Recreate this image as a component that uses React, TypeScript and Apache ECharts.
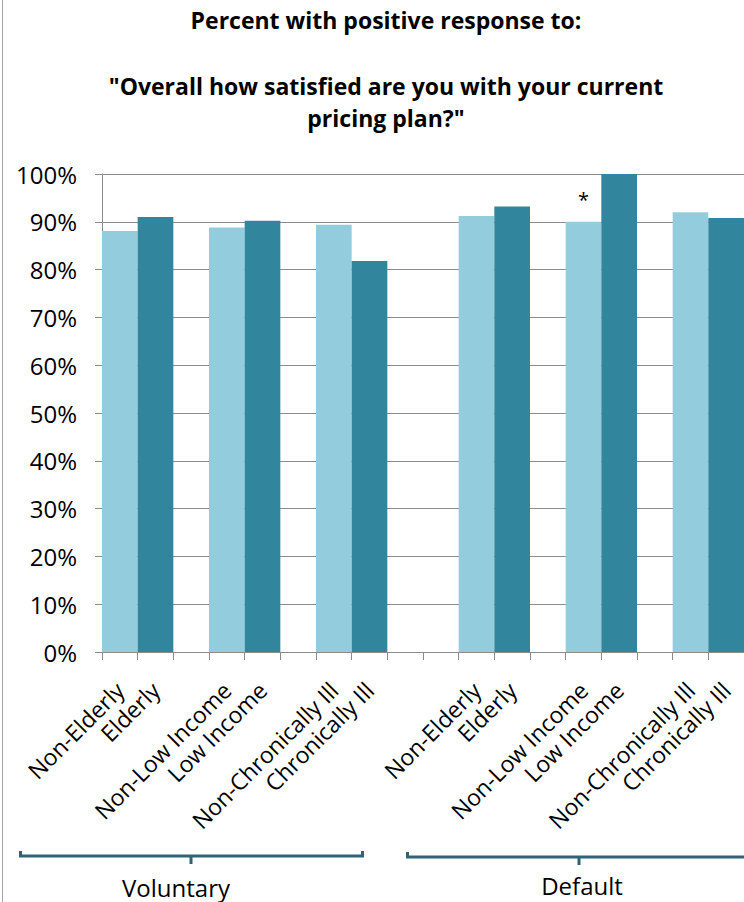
import React, { useEffect, useRef } from "react";
import * as echarts from "echarts";

const titleLine1 = "Percent with positive response to:";
const titleLine2 = "\"Overall how satisfied are you with your current";
const titleLine3 = "pricing plan?\"";

const groupNames = ["Voluntary", "Default"];
const subgroupLabels = [
  "Non-Elderly",
  "Elderly",
  "Non-Low Income",
  "Low Income",
  "Non-Chronically Ill",
  "Chronically Ill",
];
const voluntaryValues = [88.1, 91.0, 88.8, 90.2, 89.4, 81.8];
const defaultValues = [91.2, 93.2, 90.0, 100, 92.0, 90.8];
const voluntaryMarks = ["", "", "", "", "", ""];
const defaultMarks = ["", "", "*", "", "", ""];
const yTicks = [0, 10, 20, 30, 40, 50, 60, 70, 80, 90, 100];

const LIGHT = "#93CDDD";
const DARK = "#31859C";
const FONT = "'Open Sans', 'Noto Sans', sans-serif";

export default function App() {
  const ref = useRef<HTMLDivElement>(null);

  useEffect(() => {
    if (!ref.current) return;
    const chart = echarts.init(ref.current, undefined, { renderer: "svg" });

    // Build 18 slots: pairs separated by one empty slot, two empty slots between groups
    const categories: string[] = [];
    const data: any[] = [];
    const groups = [
      { values: voluntaryValues, marks: voluntaryMarks },
      { values: defaultValues, marks: defaultMarks },
    ];
    groups.forEach((g, gi) => {
      if (gi > 0) {
        categories.push("", "");
        data.push(null, null);
      }
      for (let p = 0; p < 3; p++) {
        if (p > 0) {
          categories.push("");
          data.push(null);
        }
        for (let k = 0; k < 2; k++) {
          const idx = p * 2 + k;
          categories.push(subgroupLabels[idx]);
          const item: any = {
            value: g.values[idx],
            itemStyle: { color: k === 0 ? LIGHT : DARK },
          };
          if (g.marks[idx]) {
            item.label = {
              show: true,
              position: "top",
              distance: 12,
              formatter: g.marks[idx],
              fontSize: 20,
              color: "#000",
              fontFamily: FONT,
            };
          }
          data.push(item);
        }
      }
    });

    const bracketColor = "#2E6475";
    const bracket = (x1: number, x2: number, y: number, mid: number) => [
      {
        type: "polyline",
        shape: { points: [[x1, y - 5], [x1, y], [x2, y], [x2, y - 5]] },
        style: { stroke: bracketColor, lineWidth: 3, fill: null },
      },
      {
        type: "line",
        shape: { x1: mid, y1: y, x2: mid, y2: y + 8 },
        style: { stroke: bracketColor, lineWidth: 3 },
      },
    ];

    const titleStyle = (text: string) => ({
      text,
      fontSize: 23,
      fontWeight: "bold",
      fontFamily: FONT,
      fill: "#000",
      align: "center",
      verticalAlign: "middle",
    });

    chart.setOption({
      animation: false,
      textStyle: { fontFamily: FONT },
      grid: { left: 102, right: 0, top: 174, bottom: 250, containLabel: false },
      xAxis: {
        type: "category",
        data: categories,
        axisLine: { lineStyle: { color: "#8C8C8C", width: 1 } },
        axisTick: { show: true, interval: 0, length: 8, alignWithLabel: false, lineStyle: { color: "#8C8C8C" } },
        axisLabel: {
          interval: 0,
          rotate: 45,
          margin: 34,
          fontSize: 23,
          color: "#000",
          fontFamily: FONT,
        },
      },
      yAxis: {
        type: "value",
        min: 0,
        max: 100,
        interval: 10,
        axisLine: { show: true, lineStyle: { color: "#8C8C8C" } },
        axisTick: { show: true, length: 7, lineStyle: { color: "#8C8C8C" } },
        splitLine: { show: true, lineStyle: { color: "#8C8C8C", width: 1 } },
        axisLabel: {
          formatter: (v: number) => (yTicks.includes(v) ? v + "%" : ""),
          margin: 25,
          fontSize: 24,
          color: "#000",
          fontFamily: FONT,
        },
      },
      series: [
        {
          type: "bar",
          data,
          barCategoryGap: "0%",
          barWidth: "100%",
        },
      ],
      graphic: [
        {
          type: "line",
          shape: { x1: 2.5, y1: 0, x2: 2.5, y2: 902 },
          style: { stroke: "#A6A6A6", lineWidth: 1 },
        },
        { type: "text", x: 386, y: 20, style: titleStyle(titleLine1) },
        { type: "text", x: 386, y: 86, style: titleStyle(titleLine2) },
        { type: "text", x: 386, y: 118, style: titleStyle(titleLine3) },
        ...bracket(20.5, 362.5, 856, 191),
        ...bracket(407.5, 760, 857, 579),
        {
          type: "text",
          x: 176,
          y: 887,
          style: { text: groupNames[0], fontSize: 24, fontFamily: FONT, fill: "#000", align: "center", verticalAlign: "middle" },
        },
        {
          type: "text",
          x: 582,
          y: 885,
          style: { text: groupNames[1], fontSize: 24, fontFamily: FONT, fill: "#000", align: "center", verticalAlign: "middle" },
        },
      ],
    });

    return () => chart.dispose();
  }, []);

  return (
    <div
      ref={ref}
      style={{ position: "fixed", left: 0, top: 0, width: 744, height: 902, background: "#fff" }}
    />
  );
}
